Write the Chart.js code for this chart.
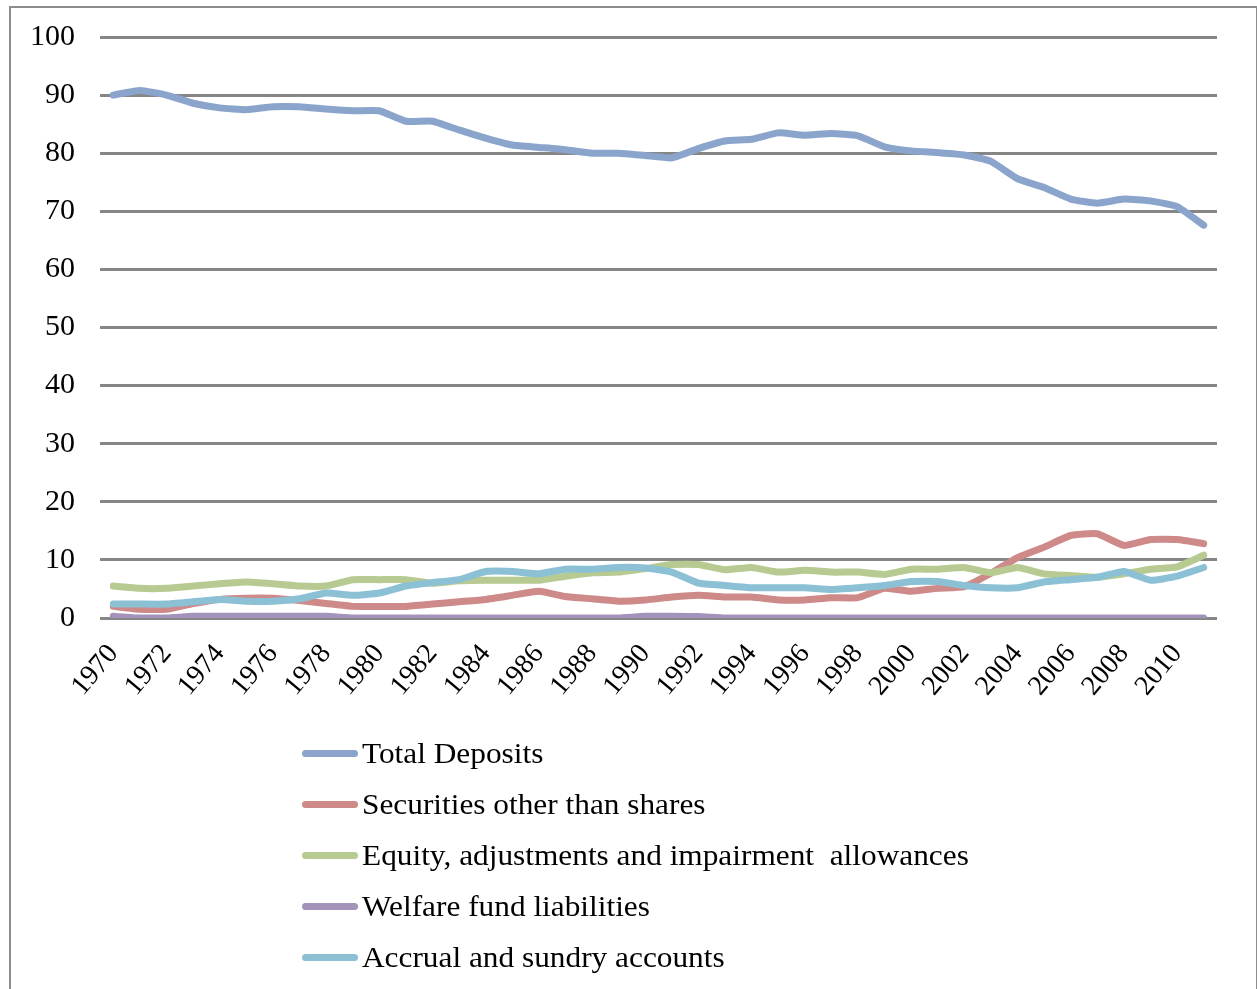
<!DOCTYPE html>
<html lang="en">
<head>
  <meta charset="UTF-8">
  <title>Liabilities shares 1970-2011</title>
  <script src="https://cdn.jsdelivr.net/npm/chart.js"></script>
  <style>
    body { margin: 0; background: #fff; font-family: 'Liberation Serif', serif; }
    .wrap { position: relative; width: 1257px; height: 989px; overflow: hidden; }
    .frame {
      position: absolute; left: 9px; top: 6px; width: 1245px; height: 1100px;
      border: 2px solid #8c8c8c;
    }
    #chart { position: absolute; left: 0; top: 0; }
    .legend { position: absolute; left: 302px; top: 728px; }
    .legend-item { display: flex; align-items: center; height: 51px; font-size: 29px; color: #000; white-space: pre; }
    .legend-item span.swatch { display: inline-block; width: 56px; height: 7px; border-radius: 4px; margin-right: 4px; flex: none; }
    .legend-item span.txt { display: inline-block; transform: scaleX(1.08); transform-origin: left center; }
  </style>
</head>
<body>
  <div class="wrap">
    <div class="frame"></div>
    <canvas id="chart" width="1257" height="989"></canvas>
    <div class="legend" id="legend"></div>
  </div>

  <script>
    const years = ['1970','1971','1972','1973','1974','1975','1976','1977','1978','1979',
      '1980','1981','1982','1983','1984','1985','1986','1987','1988','1989',
      '1990','1991','1992','1993','1994','1995','1996','1997','1998','1999',
      '2000','2001','2002','2003','2004','2005','2006','2007','2008','2009',
      '2010','2011'];

    const totalDeposits = [90.0, 90.8, 90.0, 88.6, 87.8, 87.5, 88.0, 88.0, 87.6, 87.3,
      87.3, 85.5, 85.5, 84.0, 82.6, 81.4, 81.0, 80.6, 80.0, 80.0,
      79.6, 79.2, 80.8, 82.1, 82.4, 83.5, 83.1, 83.4, 83.0, 81.1,
      80.4, 80.1, 79.7, 78.6, 75.6, 74.1, 72.1, 71.4, 72.1, 71.8,
      70.8, 67.6];

    const securities = [2.0, 1.5, 1.5, 2.5, 3.2, 3.4, 3.4, 3.0, 2.5, 2.0,
      2.0, 2.0, 2.4, 2.8, 3.2, 3.9, 4.6, 3.7, 3.3, 2.9,
      3.1, 3.6, 3.9, 3.6, 3.6, 3.1, 3.1, 3.5, 3.5, 5.1,
      4.6, 5.1, 5.4, 7.7, 10.4, 12.2, 14.2, 14.5, 12.5, 13.5,
      13.5, 12.8];

    const equity = [5.5, 5.1, 5.1, 5.5, 5.9, 6.2, 5.9, 5.5, 5.5, 6.6,
      6.6, 6.6, 6.0, 6.4, 6.5, 6.5, 6.5, 7.2, 7.8, 7.9,
      8.5, 9.2, 9.2, 8.3, 8.7, 7.9, 8.2, 7.9, 7.9, 7.5,
      8.4, 8.4, 8.7, 7.8, 8.7, 7.6, 7.3, 7.0, 7.6, 8.4,
      8.8, 10.8];

    const welfare = [0.3, 0.0, 0.0, 0.3, 0.3, 0.3, 0.3, 0.3, 0.3, 0.0,
      0.0, 0.0, 0.0, 0.0, 0.0, 0.0, 0.0, 0.0, 0.0, 0.0,
      0.3, 0.3, 0.25, 0.0, 0.0, 0.0, 0.0, 0.0, 0.0, 0.0,
      0.0, 0.0, 0.0, 0.0, 0.0, 0.0, 0.0, 0.0, 0.0, 0.0,
      0.0, 0.0];

    const accrual = [2.4, 2.4, 2.4, 2.8, 3.2, 2.9, 2.9, 3.3, 4.3, 3.9,
      4.3, 5.5, 6.1, 6.6, 8.0, 8.0, 7.6, 8.4, 8.4, 8.7,
      8.6, 7.9, 6.0, 5.6, 5.2, 5.2, 5.2, 4.9, 5.2, 5.6,
      6.3, 6.3, 5.6, 5.2, 5.2, 6.2, 6.6, 7.0, 8.0, 6.5,
      7.2, 8.7];

    const seriesNames = ['Total Deposits', 'Securities other than shares',
      'Equity, adjustments and impairment  allowances', 'Welfare fund liabilities',
      'Accrual and sundry accounts'];
    const seriesData = [totalDeposits, securities, equity, welfare, accrual];
    const seriesColors = ['#8aa4cc', '#cd8a89', '#b6ca91', '#a393ba', '#8cc0d4'];

    const yTicks = [0, 10, 20, 30, 40, 50, 60, 70, 80, 90, 100];

    const datasets = seriesNames.map((name, i) => ({
      label: name,
      data: seriesData[i],
      borderColor: seriesColors[i],
      backgroundColor: seriesColors[i],
      borderWidth: 7,
      borderCapStyle: 'round',
      borderJoinStyle: 'round',
      pointRadius: 0,
      tension: 0.15,
      fill: false,
      order: seriesNames.length - 1 - i  // later series drawn on top
    }));

    new Chart(document.getElementById('chart'), {
      type: 'line',
      data: { labels: years, datasets: datasets },
      options: {
        responsive: false,
        animation: false,
        layout: { padding: { top: 37, right: 40, bottom: 281, left: 0 } },
        plugins: {
          legend: { display: false },
          tooltip: { enabled: false }
        },
        scales: {
          x: {
            type: 'category',
            offset: true,
            grid: { display: false },
            border: { display: false },
            afterFit: scale => { scale.height = 90; },
            ticks: {
              autoSkip: false,
              minRotation: 50,
              maxRotation: 50,
              padding: 12,
              color: '#000',
              font: { family: "'Liberation Serif', serif", size: 28 },
              callback: (val, idx) => idx % 2 === 0 ? years[idx] : ''
            }
          },
          y: {
            min: 0,
            max: 100,
            afterFit: scale => {
              scale.width = 100;
              scale.paddingTop = 0;
              scale.paddingBottom = 0;
            },
            afterBuildTicks: scale => { scale.ticks = yTicks.map(v => ({ value: v })); },
            grid: { color: '#868686', lineWidth: 3, drawTicks: false },
            border: { display: false },
            ticks: {
              padding: 25,
              color: '#000',
              font: { family: "'Liberation Serif', serif", size: 30 }
            }
          }
        }
      }
    });

    // legend stacked vertically under the plot
    const legendBox = document.getElementById('legend');
    seriesNames.forEach((name, i) => {
      legendBox.innerHTML += `
        <div class="legend-item"><span class="swatch" style="background:${seriesColors[i]}"></span><span class="txt">${name}</span></div>`;
    });
  </script>
</body>
</html>
